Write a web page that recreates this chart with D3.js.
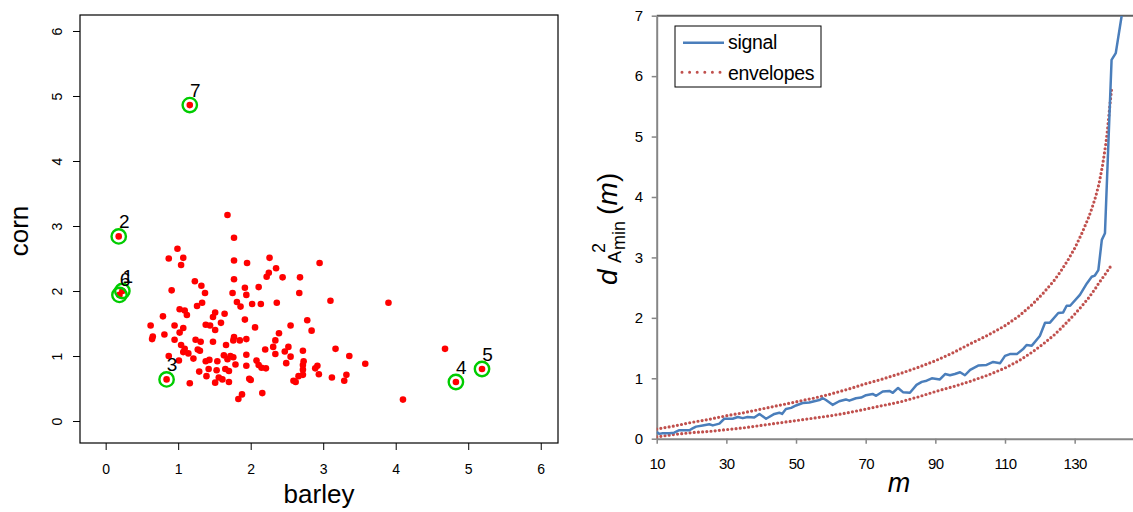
<!DOCTYPE html>
<html><head><meta charset="utf-8">
<script src="https://cdn.jsdelivr.net/npm/d3@7"></script>
<style>body{margin:0;background:#fff}svg{display:block}text{font-family:"Liberation Sans",Arial,sans-serif}</style>
</head><body><svg id="c" width="1133" height="512"></svg>
<script>
// ---------- left panel data ----------
const barley = [1.68,1.77,0.99,0.87,1.07,1.04,1.77,1.95,2.26,2.35,
2.25,2.22,1.77,1.23,1.32,1.92,2.11,0.91,1.37,1.75,
1.94,1.81,1.86,2.02,2.14,2.36,1.33,1.26,1.02,1.09,
1.12,1.51,1.48,1.64,0.79,1.92,1.59,0.62,0.95,1.38,
1.44,1.07,1.51,2.06,0.65,0.64,0.81,1.02,1.77,1.76,
1.85,1.94,0.95,1.24,1.31,1.48,1.66,1.04,2.39,2.34,
2.20,2.31,2.34,1.09,1.07,1.14,1.27,1.30,1.21,1.01,
0.87,1.63,1.72,1.76,1.68,1.94,1.54,1.38,1.43,1.79,
2.08,2.11,2.15,2.21,1.94,1.29,1.42,1.53,1.65,1.70,
1.39,1.56,1.61,1.70,1.51,1.98,2.00,1.16,2.16,1.88,
1.83,
2.95,2.44,2.68,2.67,3.10,3.90,2.78,2.55,2.84,2.52,
2.47,2.72,2.55,3.17,3.36,3.58,2.49,2.73,2.72,2.92,
2.89,2.72,2.94,3.12,3.32,3.29,2.72,2.66,2.59,2.62,
4.10,4.68];
const corn = [3.17,2.82,2.65,2.50,2.51,2.40,2.47,2.43,2.51,2.35,
2.28,2.22,2.18,2.15,2.08,2.05,2.06,2.01,1.97,1.97,
1.94,1.83,1.76,1.80,1.80,1.82,1.82,1.77,1.72,1.70,
1.63,1.67,1.60,1.65,1.61,1.56,1.51,1.47,1.47,1.48,
1.47,1.43,1.40,1.44,1.30,1.26,1.33,1.36,1.29,1.24,
1.24,1.26,1.25,1.25,1.22,1.22,1.17,1.17,1.35,1.24,
1.10,1.14,1.03,1.11,1.06,1.04,1.10,1.08,0.96,0.93,
1.00,1.01,1.00,0.98,0.95,1.02,0.92,0.92,0.94,0.87,
0.93,0.86,0.82,0.81,0.85,0.76,0.80,0.78,0.80,0.77,
0.69,0.67,0.64,0.60,0.59,0.65,0.63,0.58,0.43,0.41,
0.34,
2.43,2.21,2.21,1.97,1.85,1.82,1.55,1.47,1.39,1.14,
1.07,1.08,0.99,1.11,1.00,0.88,0.89,0.92,0.86,0.85,
0.81,0.79,0.72,0.67,0.71,0.62,0.71,0.69,0.62,0.60,
0.33,1.11];
const hiBarley = [0.23,0.18,0.84,4.83,5.19,0.19,1.16];
const hiCorn   = [2.00,2.84,0.64,0.60,0.80,1.94,4.86];
const hiLabels = ["1","2","3","4","5","6","7"];
const scatterTicks = [0,1,2,3,4,5,6];

// ---------- right panel data ----------
const sigM = [10,10.7,11.7,13.6,15,16.5,19.4,20.3,21.3,23.2,25.1,26.1,28,29.4,31.8,33.3,34.7,36.1,38,39.5,
41.4,43.8,45.2,46,47.1,48.6,50,51.9,53.8,56.7,57.7,58.6,60.5,62.4,64.3,65.3,67.2,68.7,70.1,72,
73,74.9,76.8,77.8,79.3,80.7,82.7,84.6,86.1,87.5,89,91.3,92.8,94.2,95.6,97.1,98.5,100,102.3,104.7,
106.6,108.6,110,111.4,113.4,115.3,116.2,117.7,120,121.5,122.9,125.3,126.7,127.7,128.7,131.5,133.5,134.9,135.8,136.8,
137.8,138.7,140.6,141.8,143.5];
const sigV = [0.11,0.08,0.09,0.09,0.10,0.14,0.14,0.17,0.20,0.22,0.24,0.22,0.25,0.33,0.33,0.36,0.34,0.36,0.35,0.41,
0.33,0.41,0.43,0.41,0.49,0.51,0.55,0.59,0.60,0.64,0.67,0.64,0.56,0.62,0.65,0.63,0.67,0.68,0.72,0.74,
0.71,0.78,0.79,0.76,0.84,0.77,0.76,0.89,0.94,0.96,1.00,0.98,1.07,1.05,1.07,1.10,1.05,1.14,1.21,1.22,
1.27,1.25,1.37,1.40,1.40,1.49,1.55,1.54,1.70,1.92,1.92,2.08,2.09,2.20,2.20,2.38,2.57,2.68,2.70,2.79,
3.29,3.40,6.27,6.38,7.00];
const upM = [10,15,20,25,30,35,40,45,50,55,60,65,70,75,80,85,90,95,100,105,110,114,118,121,124,126,128,130,132,134,135,136,137,138,139,139.5,140,140.4,140.7];
const upV = [0.16,0.21,0.27,0.32,0.38,0.43,0.49,0.55,0.61,0.67,0.74,0.82,0.91,0.99,1.08,1.18,1.29,1.42,1.57,1.71,1.87,2.03,2.23,2.41,2.61,2.77,2.95,3.15,3.39,3.66,3.82,4.00,4.22,4.52,4.90,5.15,5.45,5.68,5.83];
const loM = [10,15,20,25,30,35,40,45,50,55,60,65,70,75,80,85,90,95,100,105,110,114,118,121,124,126,128,130,132,134,135,136,137,138,139,139.7,140.3];
const loV = [0.03,0.07,0.10,0.12,0.15,0.18,0.22,0.26,0.30,0.34,0.38,0.43,0.49,0.55,0.61,0.69,0.78,0.86,0.95,1.05,1.17,1.29,1.44,1.57,1.71,1.82,1.94,2.06,2.19,2.33,2.41,2.49,2.58,2.66,2.74,2.80,2.85];
const mTicks = [10,30,50,70,90,110,130];
const dTicks = [0,1,2,3,4,5,6,7];
const legendLabels = ["signal","envelopes"];

const svg = d3.select("#c");
const fmt = d3.format("d");

// ================= LEFT PANEL =================
const xS = d3.scaleLinear().domain([-0.354, 6.238]).range([80, 558]);
const yS = d3.scaleLinear().domain([-0.338, 6.246]).range([443, 15]);
const L = svg.append("g");

const gx = L.append("g").attr("transform","translate(0,443)")
  .call(d3.axisBottom(xS).tickValues(scatterTicks).tickFormat(fmt).tickSize(7).tickSizeOuter(0));
gx.select(".domain").remove();
gx.selectAll("line").attr("stroke","#000");
gx.selectAll("text").attr("y",31).attr("dy",null).attr("font-size",14).attr("fill","#000")
  .style("font-family","Liberation Sans, Arial, sans-serif");

const gy = L.append("g").attr("transform","translate(80,0)")
  .call(d3.axisLeft(yS).tickValues(scatterTicks).tickFormat(fmt).tickSize(7).tickSizeOuter(0));
gy.select(".domain").remove();
gy.selectAll("line").attr("stroke","#000");
gy.selectAll("text").attr("x",null).attr("dy",null).attr("text-anchor","middle")
  .attr("transform","translate(-18,0) rotate(-90)").attr("font-size",14).attr("fill","#000")
  .style("font-family","Liberation Sans, Arial, sans-serif");

L.append("rect").attr("x",80).attr("y",15).attr("width",478).attr("height",428)
  .attr("fill","none").attr("stroke","#000").attr("stroke-width",1.2);

L.append("g").selectAll("circle").data(barley.map((b,i)=>[b,corn[i]])).join("circle")
  .attr("cx",d=>xS(d[0])).attr("cy",d=>yS(d[1])).attr("r",3.3).attr("fill","#ff0000");

const hi = hiBarley.map((b,i)=>({x:b,y:hiCorn[i],lab:hiLabels[i]}));
L.append("g").selectAll("circle").data(hi).join("circle")
  .attr("cx",d=>xS(d.x)).attr("cy",d=>yS(d.y)).attr("r",3.3).attr("fill","#ff0000");
L.append("g").selectAll("circle").data(hi).join("circle")
  .attr("cx",d=>xS(d.x)).attr("cy",d=>yS(d.y)).attr("r",7.2)
  .attr("fill","none").attr("stroke","#00cc00").attr("stroke-width",2.4);
L.append("g").selectAll("text").data(hi).join("text")
  .attr("x",d=>xS(d.x)+5.5).attr("y",d=>yS(d.y)-8.5).attr("text-anchor","middle")
  .attr("font-size",19).attr("fill","#000").text(d=>d.lab);

L.append("text").attr("x",319).attr("y",503).attr("text-anchor","middle")
  .attr("font-size",26).attr("fill","#000").text("barley");
L.append("text").attr("transform","translate(28,231) rotate(-90)").attr("text-anchor","middle")
  .attr("font-size",26).attr("fill","#000").text("corn");

// ================= RIGHT PANEL =================
const xR = d3.scaleLinear().domain([10,150]).range([656.7, 656.7+140*3.483]);
const yR = d3.scaleLinear().domain([0,7]).range([438.7, 15.7]);
const R = svg.append("g");
const axisGray = "#868686";

svg.append("defs").append("clipPath").attr("id","clipR").append("rect")
  .attr("x",656.7).attr("y",15.7).attr("width",480).attr("height",423);

R.append("line").attr("x1",656.7).attr("x2",1133).attr("y1",15.7).attr("y2",15.7)
  .attr("stroke","#5f5f5f").attr("stroke-width",2);

const gxr = R.append("g").attr("transform","translate(0,438.7)")
  .call(d3.axisBottom(xR).tickValues(mTicks).tickFormat(fmt).tickSize(5).tickSizeOuter(0));
gxr.select(".domain").attr("stroke",axisGray).attr("stroke-width",2);
gxr.selectAll("line").attr("stroke",axisGray).attr("stroke-width",1.5);
gxr.selectAll("text").attr("y",30.6).attr("dy",null).attr("font-size",15).attr("letter-spacing",-0.6)
  .attr("fill","#000").style("font-family","Liberation Sans, Arial, sans-serif");

const gyr = R.append("g").attr("transform","translate(656.7,0)")
  .call(d3.axisLeft(yR).tickValues(dTicks).tickFormat(fmt).tickSize(5).tickSizeOuter(0));
gyr.select(".domain").attr("stroke",axisGray).attr("stroke-width",2);
gyr.selectAll("line").attr("stroke",axisGray).attr("stroke-width",1.5);
gyr.selectAll("text").attr("x",-13.5).attr("font-size",15).attr("fill","#000")
  .style("font-family","Liberation Sans, Arial, sans-serif");

const line = d3.line().x(d=>xR(d[0])).y(d=>yR(d[1]));
const plot = R.append("g").attr("clip-path","url(#clipR)");
const envColor = "#C0504D", sigColor = "#4A7EBB";
[[upM,upV],[loM,loV]].forEach(([ms,vs])=>{
  plot.append("path").datum(ms.map((m,i)=>[m,vs[i]])).attr("d",line)
    .attr("fill","none").attr("stroke",envColor).attr("stroke-width",3.2)
    .attr("stroke-dasharray","0,4.2").attr("stroke-linecap","round");
});
plot.append("path").datum(sigM.map((m,i)=>[m,sigV[i]])).attr("d",line)
  .attr("fill","none").attr("stroke",sigColor).attr("stroke-width",2.5).attr("stroke-linejoin","round");

// legend
const lg = R.append("g");
lg.append("rect").attr("x",675).attr("y",26).attr("width",146).attr("height",61)
  .attr("fill","#fff").attr("stroke","#000").attr("stroke-width",1);
lg.append("line").attr("x1",683).attr("x2",724).attr("y1",42.7).attr("y2",42.7)
  .attr("stroke",sigColor).attr("stroke-width",2.5);
lg.append("line").attr("x1",682).attr("x2",722).attr("y1",72.3).attr("y2",72.3)
  .attr("stroke",envColor).attr("stroke-width",3).attr("stroke-dasharray","0,7.6").attr("stroke-linecap","round");
lg.selectAll("text.lg").data(legendLabels).join("text").attr("class","lg")
  .attr("x",728).attr("y",(d,i)=>48.5+i*31.5).attr("font-size",19.5).attr("letter-spacing",-0.3)
  .attr("fill","#000").text(d=>d);

// axis titles
R.append("text").attr("x",899).attr("y",492).attr("text-anchor","middle")
  .attr("font-size",27).attr("font-style","italic").attr("fill","#000").text("m");
const yt = R.append("g").attr("transform","translate(617,285) rotate(-90)");
yt.append("text").attr("x",0).attr("y",0).attr("font-size",28).attr("font-style","italic").text("d");
yt.append("text").attr("x",22).attr("y",4).attr("font-size",18).text("A");
yt.append("text").attr("x",32).attr("y",-12).attr("font-size",18).text("2");
yt.append("text").attr("x",35).attr("y",8).attr("font-size",18).text("min");
yt.append("text").attr("x",70).attr("y",0).attr("font-size",28).text("(");
yt.append("text").attr("x",79.5).attr("y",0).attr("font-size",28).attr("font-style","italic").text("m");
yt.append("text").attr("x",103).attr("y",0).attr("font-size",28).text(")");
</script>
</body></html>
